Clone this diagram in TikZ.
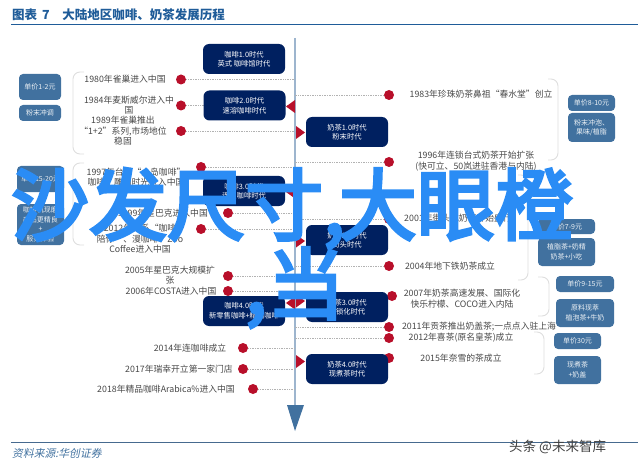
\documentclass[tikz,border=0pt]{standalone}
\usepackage{fontspec}
\setmainfont{Noto Sans CJK SC}
\newfontfamily\srcfont[FakeSlant=0.2]{Noto Sans CJK SC}
\newfontfamily\bigfont[FakeBold=4]{Noto Sans CJK SC}
\usetikzlibrary{calc}
\definecolor{navyBox}{HTML}{002060}
\definecolor{steelBox}{HTML}{41719F}
\definecolor{redDot}{HTML}{B80F2A}
\definecolor{ruleBlue}{HTML}{1F5C99}
\definecolor{axisBlue}{HTML}{9DB5CE}
\definecolor{bigBlue}{HTML}{2A8CF5}
\tikzset{
	eraBox/.style={fill=navyBox, rounded corners=6pt, text=white, align=center, inner sep=0pt, minimum width=82pt, minimum height=30pt, font=\fontsize{7.3}{9.5}\selectfont},
	priceBox/.style={fill=steelBox, rounded corners=4pt, text=white!90!steelBox, align=center, inner sep=0pt, font=\fontsize{7}{9.5}\selectfont},
	reddot/.style={circle, fill=redDot, inner sep=0pt, minimum size=10pt},
	evt/.style={text=black!72, align=center, inner sep=0pt, font=\fontsize{8.8}{10.5}\selectfont},
	leader/.style={densely dotted, line width=0.7pt, color=black!30},
	brace/.style={line width=0.9pt, color=black!13, rounded corners=7pt},
	pointer/.style={fill=redDot},
	bigText/.style={text=bigBlue, inner sep=0pt, font=\bigfont\fontsize{78}{78}\selectfont}
}
\begin{document}
\begin{tikzpicture}[x=1pt, y=-1pt]
	%%%%% START %%%%%
	\useasboundingbox (0, 0) rectangle (640, 468);

	\node[anchor=west, inner sep=0pt, text=ruleBlue, font=\bfseries\fontsize{12.5}{14}\selectfont] (title) at (12, 15) {图表 \,7\quad 大陆地区咖啡、奶茶发展历程};
	\draw[line width=1.2pt, color=ruleBlue] (11, 24.5) -- (638, 24.5);
	\draw[line width=0.8pt, color=ruleBlue!60!gray] (11, 442.5) -- (638, 442.5);
	\node[anchor=west, inner sep=0pt, text=steelBox, font=\srcfont\fontsize{10.8}{12}\selectfont] (source) at (12, 453) {资料来源:华创证券};

	% axis
	\coordinate (axistop) at (295, 38);
	\coordinate (axisend) at (295, 405);
	\draw[line width=1.2pt, color=axisBlue] (axistop) -- (axisend);
	\fill[steelBox] (287, 405) -- (304, 405) -- (295, 431) -- cycle;

	%%%%% coffee side
	\node[reddot] (c1980) at (181, 79.5) {};
	\node[reddot] (c1984) at (181, 105.5) {};
	\node[reddot] (c1989) at (181, 131) {};
	\node[reddot] (c1997) at (201, 167) {};
	\node[reddot] (c1999) at (228, 213) {};
	\node[reddot] (c2002) at (201, 229) {};
	\node[reddot] (c2005) at (228, 276) {};
	\node[reddot] (c2006) at (228, 291) {};
	\node[reddot] (c2014) at (243, 348) {};
	\node[reddot] (c2017) at (243, 369) {};
	\node[reddot] (c2018) at (253, 389) {};

	\draw[leader] (c1980) -- (c1980 -| axistop);
	\draw[leader] (c1984) -- (c1984 -| axistop);
	\draw[leader] (c1989) -- (c1989 -| axistop);
	\draw[leader] (c1997) -- (c1997 -| axistop);
	\draw[leader] (c1999) -- (c1999 -| axistop);
	\draw[leader] (c2002) -- (c2002 -| axistop);
	\draw[leader] (c2005) -- (c2005 -| axistop);
	\draw[leader] (c2006) -- (c2006 -| axistop);
	\draw[leader] (c2014) -- (c2014 -| axistop);
	\draw[leader] (c2017) -- (c2017 -| axistop);
	\draw[leader] (c2018) -- (c2018 -| axistop);

	\node[evt] (t1980) at (125, 79) {1980年雀巢进入中国};
	\node[evt] (t1984) at (129, 105) {1984年麦斯威尔进入中\\国};
	\node[evt] (t1989) at (123, 131) {1989年雀巢推出\\“1+2”系列,市场地位\\稳固};
	\node[evt] (t1997) at (136, 177) {1997年台系“上岛咖啡”\\咖啡、雕刻时光进入中国};
	\node[evt, anchor=east] (t1999) at (208, 213) {1999年星巴克进入中国};
	\node[evt] (t2002) at (140, 239) {2012年韩系“咖啡\\陪你”、漫咖啡、Zoo\\Coffee进入中国};
	\node[evt] (t2005) at (170, 275) {2005年星巴克大规模扩\\张};
	\node[evt] (t2006) at (171, 291) {2006年COSTA进入中国};
	\node[evt] (t2014) at (190, 348) {2014年连咖啡成立};
	\node[evt] (t2017) at (179, 369) {2017年瑞幸开立第一家门店};
	\node[evt] (t2018) at (166, 389) {2018年精品咖啡Arabica\%进入中国};

	\node[eraBox] (coffee1) at (244, 59) {咖啡1.0时代\\英式 咖啡馆时代};
	\node[eraBox] (coffee2) at (244.5, 105.5) {咖啡2.0时代\\速溶咖啡时代};
	\node[eraBox] (coffee3) at (244, 191) {咖啡3.0时代\\连锁咖啡时代};
	\node[eraBox] (coffee4) at (244, 311) {咖啡4.0时代\\新零售咖啡+精品咖啡};

	\fill[pointer] (286, 106.5) -- (295, 100) -- (295, 113) -- cycle;
	\fill[pointer] (286, 192) -- (295, 185.5) -- (295, 198.5) -- cycle;
	\fill[pointer] (286, 303) -- (295, 296.5) -- (295, 309.5) -- cycle;

	\draw[brace] (84, 72) -- (73, 72) -- (73, 154) -- (84, 154);
	\draw[brace] (84, 163) -- (73, 163) -- (73, 245) -- (84, 245);

	\node[priceBox, minimum width=42pt, minimum height=26pt] (p1) at (40, 87) {单价1-2元};
	\node[priceBox, minimum width=42pt, minimum height=16pt] (p2) at (40, 113) {粉末冲调};
	\node[priceBox, minimum width=47pt, minimum height=26pt] (p3) at (40.5, 179) {单价15-20元};
	\node[priceBox, minimum width=47pt, minimum height=41pt] (p4) at (40.5, 224.5) {咖啡机现磨\\产品更精良\\+\\服务体验};

	%%%%% milk tea side
	\node[reddot] (m1983) at (389, 95) {};
	\node[reddot] (m1996) at (389, 162) {};
	\node[reddot] (m2001) at (389, 219) {};
	\node[reddot] (m2004) at (389, 266) {};
	\node[reddot] (m2007) at (392, 296) {};
	\node[reddot] (m2011) at (389, 327) {};
	\node[reddot] (m2012) at (389, 338) {};
	\node[reddot] (m2015) at (389, 358) {};

	\draw[leader] (m1983) -- (m1983 -| axistop);
	\draw[leader] (m1996) -- (m1996 -| axistop);
	\draw[leader] (m2001) -- (m2001 -| axistop);
	\draw[leader] (m2004) -- (m2004 -| axistop);
	\draw[leader] (m2011) -- (m2011 -| axistop);
	\draw[leader] (m2012) -- (m2012 -| axistop);

	\node[evt] (t1983) at (481, 94.5) {1983年珍珠奶茶鼻祖“春水堂”创立};
	\node[evt] (t1996) at (476, 161) {1996年连锁台式奶茶开始扩张\\(快可立、50岚进驻香港与内陆)};
	\node[evt] (t2001) at (458, 218) {2001年街头式奶茶开始盛行};
	\node[evt] (t2004) at (450, 266) {2004年地下铁奶茶成立};
	\node[evt] (t2007) at (462, 298.5) {2007年奶茶高速发展、国际化\\快乐柠檬、COCO进入内陆};
	\node[evt] (t2011) at (479, 327) {2011年贡茶推出奶盖茶;一点点入驻上海};
	\node[evt] (t2012) at (461, 337.5) {2012年喜茶(原名皇茶)成立};
	\node[evt] (t2015) at (461, 358) {2015年奈雪的茶成立};

	\node[eraBox] (tea1) at (347, 132) {奶茶1.0时代\\粉末时代};
	\node[eraBox] (tea2) at (347, 240) {奶茶2.0时代\\街头时代};
	\node[eraBox] (tea3) at (347, 307) {奶茶3.0时代\\连锁化时代};
	\node[eraBox] (tea4) at (347, 369) {奶茶4.0时代\\现煮茶时代};

	\fill[pointer] (305, 132.5) -- (296, 126) -- (296, 139) -- cycle;
	\fill[pointer] (305, 241) -- (296, 234.5) -- (296, 247.5) -- cycle;
	\fill[pointer] (305, 301) -- (296, 294.5) -- (296, 307.5) -- cycle;
	\fill[pointer] (305, 361.5) -- (296, 355) -- (296, 368) -- cycle;

	\draw[brace] (548, 79) -- (558, 79) -- (558, 160) -- (548, 160);
	\draw[brace] (518, 175) -- (528, 175) -- (528, 280) -- (518, 280);
	\draw[brace] (538, 277) -- (549, 277) -- (549, 316) -- (538, 316);
	\draw[brace] (534, 332) -- (544, 332) -- (544, 374) -- (534, 374);

	\node[priceBox, minimum width=47pt, minimum height=16pt] (p5) at (591.5, 103) {单价8-10元};
	\node[priceBox, minimum width=47pt, minimum height=29pt] (p6) at (591.5, 127.5) {粉末冲泡、\\果味/植脂};
	\node[priceBox, minimum width=57pt, minimum height=15pt] (p7) at (566.5, 226.5) {单价7-9元};
	\node[priceBox, minimum width=57pt, minimum height=28pt] (p8) at (566.5, 252) {植脂茶+奶精\\奶茶+小吃};
	\node[priceBox, minimum width=58pt, minimum height=16pt] (p9) at (585, 284) {单价9-15元};
	\node[priceBox, minimum width=58pt, minimum height=28pt] (p10) at (585, 313) {原料现萃\\植泡茶+牛奶};
	\node[priceBox, minimum width=47pt, minimum height=16pt] (p11) at (577.5, 341) {单价30元};
	\node[priceBox, minimum width=47pt, minimum height=28pt] (p12) at (577.5, 370) {现煮茶\\+奶盖};

	%%%%% overlay
	\node[anchor=base west, inner sep=0pt, text=black!75, font=\fontsize{13.5}{15}\selectfont] (mark) at (509, 451) {头条 @未来智库};
	\node[bigText, anchor=base west] (big1) at (11, 234) {沙发尺寸,\hspace{-6pt}大眼橙};
	\node[bigText, anchor=base west] (big2) at (245, 313) {,当};

	%%%%% END %%%%%
\end{tikzpicture}
\end{document}
